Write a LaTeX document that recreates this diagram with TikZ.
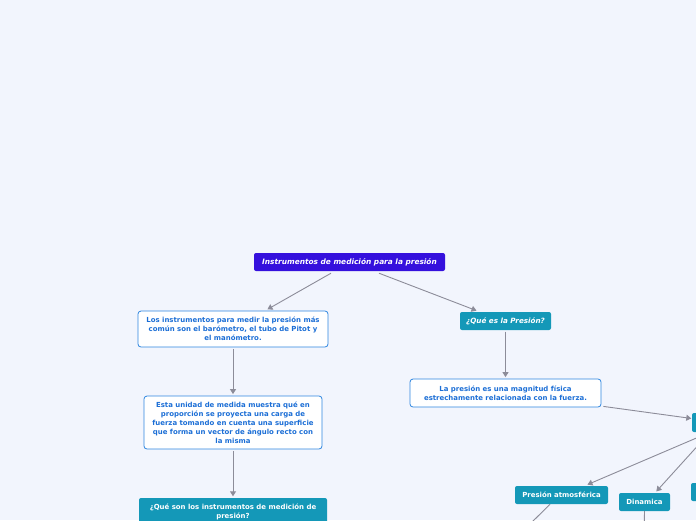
\documentclass[tikz,border=0pt]{standalone}
\usepackage{fontspec}
\setmainfont{DejaVu Sans}
\usetikzlibrary{arrows.meta}
\definecolor{bgc}{HTML}{F2F5FD}
\definecolor{rootc}{HTML}{3510DD}
\definecolor{tealc}{HTML}{1498B8}
\definecolor{bordc}{HTML}{2F86E0}
\definecolor{txtc}{HTML}{1B6ED6}
\definecolor{edgec}{HTML}{8C8C99}
\tikzset{
  rootbox/.style={fill=rootc, rounded corners=2pt, text=white, inner sep=0pt,
    font=\fontsize{7.4}{8}\selectfont\bfseries\itshape},
  wbox/.style={draw=bordc, line width=0.8pt, fill=white, rounded corners=3pt,
    text=txtc, align=center, inner sep=0pt,
    font=\fontsize{6.95}{9}\selectfont\bfseries},
  tbox/.style={fill=tealc, rounded corners=2pt, text=white, align=center, inner sep=0pt,
    font=\fontsize{6.95}{9}\selectfont\bfseries},
  tboxi/.style={tbox, font=\fontsize{7.2}{9}\selectfont\bfseries\itshape},
  conn/.style={draw=edgec, line width=0.9pt, -{Triangle[length=5pt,width=6pt]}, shorten >=0.5pt},
  connfree/.style={draw=edgec, line width=0.9pt}
}
\begin{document}
\begin{tikzpicture}[x=1pt,y=-1pt]
\fill[bgc] (0,0) rectangle (696,520);
\useasboundingbox (0,0) rectangle (696,520);
\clip (0,0) rectangle (696,520);

\node[rootbox, minimum width=191pt, minimum height=18pt] (root) at (349.5,262) {Instrumentos de medición para la presión};

\node[wbox, minimum width=190pt, minimum height=36pt] (l1) at (233,329)
  {Los instrumentos para medir la presión más\\común son el barómetro, el tubo de Pitot y\\el manómetro.};
\node[wbox, minimum width=178pt, minimum height=53pt] (l2) at (233,422.5)
  {Esta unidad de medida muestra qué en\\proporción se proyecta una carga de\\fuerza tomando en cuenta una superficie\\que forma un vector de ángulo recto con\\la misma};
\node[tbox, minimum width=188pt, minimum height=27pt] (l3) at (233,511.5)
  {¿Qué son los instrumentos de medición de\\presión?};

\node[tboxi, minimum width=91pt, minimum height=18pt] (q) at (505.5,321) {¿Qué es la Presión?};
\node[wbox, minimum width=191pt, minimum height=28pt] (lp) at (505.5,393)
  {La presión es una magnitud física\\estrechamente relacionada con la fuerza.};

\node[tbox, minimum width=36pt, minimum height=19pt] (rn) at (710,422.5) {};
\node[tbox, minimum width=93pt, minimum height=18pt] (pa) at (561.5,495) {Presión atmosférica};
\node[tbox, minimum width=51pt, minimum height=18pt] (din) at (644.5,502) {Dinamica};
\node[tbox, minimum width=36pt, minimum height=18pt] (rb) at (709,492) {};

\coordinate (paend) at (522,532);
\coordinate (dinend) at (644,540);

\draw[conn] ([xshift=-18.5pt,yshift=-2pt]root.south) -- ([xshift=34pt,yshift=1pt]l1.north);
\draw[conn] ([xshift=29.5pt,yshift=-2pt]root.south) -- ([xshift=-28.5pt,yshift=1pt]q.north);
\draw[conn] ([yshift=-1.5pt]l1.south) -- ([yshift=1pt]l2.north);
\draw[conn] ([yshift=-1.5pt]l2.south) -- ([yshift=1pt]l3.north);
\draw[conn] ([yshift=-1.5pt]q.south) -- ([yshift=1pt]lp.north);
\draw[conn] ([xshift=2pt,yshift=1pt]lp.south east) -- ([yshift=4pt]rn.west);
\draw[conn] (rn.south) -- ([xshift=25.5pt,yshift=1pt]pa.north);
\draw[conn] (rn.south) -- ([xshift=11.5pt,yshift=1pt]din.north);
\draw[connfree] ([xshift=-11.5pt]pa.south) -- (paend);
\draw[connfree] (din.south) -- (dinend);
\end{tikzpicture}
\end{document}
